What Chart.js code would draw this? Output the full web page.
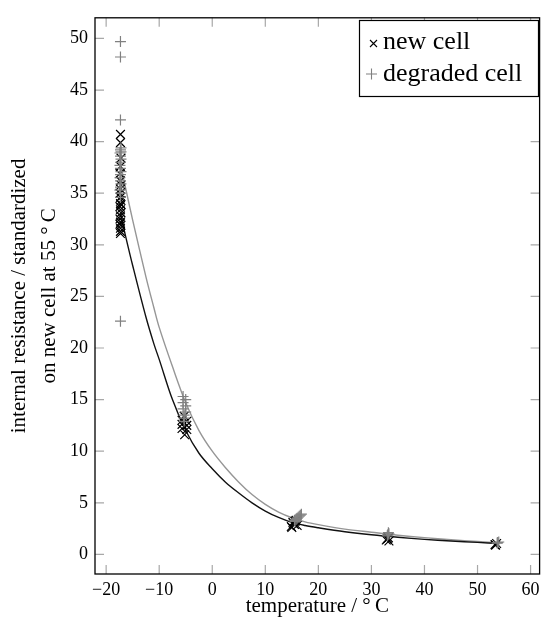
<!DOCTYPE html>
<html>
<head>
<meta charset="utf-8">
<script src="https://cdn.jsdelivr.net/npm/chart.js@4.4.1/dist/chart.umd.min.js"></script>
<style>
    html, body { margin: 0; padding: 0; background: #fff; }
    #wrap { width: 547px; height: 626px; }
</style>
</head>
<body>
<div id="wrap"><canvas id="chart" width="547" height="626"></canvas></div>
<script>
// measurements, new cell
const newCellT = [
    -17.3, -17.3, -17.2, -17.3, -17.4, -17.3, -17.2, -17.3, -17.4, -17.3, -17.2, -17.3,
    -17.4, -17.3, -17.2, -17.3, -17.4, -17.3, -17.2, -17.3, -17.3, -17.3, -17.2, -17.4,
    -5.7, -4.8, -5.7, -4.8, -5.7, -4.8, -5.2, -5.3,
    14.9, 15.3, 15.6, 16.0, 15.2, 15.5, 15.8, 15.0,
    32.8, 33.2, 33.0, 33.3,
    53.3, 53.6, 53.4
];
const newCellR = [
    40.7, 39.9, 38.4, 37.6, 36.9, 36.2, 35.8, 35.4, 35.0, 34.6, 34.3, 34.0,
    33.7, 33.4, 33.1, 32.8, 32.5, 32.2, 31.9, 31.6, 31.3, 31.1, 33.9, 32.0,
    13.0, 12.9, 12.6, 12.5, 12.2, 12.1, 11.6, 13.4,
    2.7, 3.0, 3.2, 2.8, 3.1, 2.9, 3.3, 2.6,
    1.4, 1.6, 1.5, 1.3,
    0.95, 1.05, 0.9
];

// measurements, degraded cell
const degradedT = [
    -17.3, -17.3, -17.3, -17.2, -17.3, -17.4, -17.3, -17.2, -17.3, -17.4, -17.3,
    -17.2, -17.3, -17.4, -17.3, -17.2, -17.3, -17.4, -17.3, -17.3, -17.3, -17.2,
    -5.5, -5.0, -5.5, -5.0, -5.5, -5.0, -5.3, -5.3, -5.3,
    15.5, 16.0, 16.4, 16.8, 15.8, 16.2, 16.6, 15.6,
    33.0, 33.3, 33.1, 33.2,
    53.7, 54.0, 53.8
];
const degradedR = [
    49.7, 48.2, 42.1, 39.4, 39.2, 38.9, 38.6, 38.3, 38.0, 37.7, 37.4,
    37.1, 36.8, 36.5, 36.2, 35.9, 35.6, 35.3, 35.0, 34.6, 22.6, 39.0,
    15.3, 15.0, 14.7, 14.4, 14.1, 13.8, 13.5, 13.2, 12.9,
    3.3, 3.5, 3.7, 3.9, 3.4, 3.6, 3.8, 3.2,
    1.8, 2.0, 1.9, 2.1,
    1.1, 1.2, 1.15
];

// fitted curves
const fitT = [-17.3, -16.5, -15, -12.5, -11, -10, -7.5, -5, -2.5, 0, 2.5, 5, 7.5, 10, 12.5, 15, 17.5, 20, 25, 30, 35, 40, 45, 50, 54];
const newFitR = [33.0, 31.2, 28.0, 23.0, 20.4, 18.9, 15.0, 12.0, 9.8, 8.3, 7.0, 5.95, 5.0, 4.2, 3.58, 3.1, 2.8, 2.58, 2.2, 1.9, 1.66, 1.46, 1.3, 1.16, 1.06];
const degradedFitR = [37.9, 35.9, 32.4, 26.9, 23.9, 22.0, 18.2, 14.7, 12.0, 10.0, 8.4, 7.0, 5.8, 4.85, 4.1, 3.55, 3.15, 2.88, 2.45, 2.15, 1.86, 1.62, 1.42, 1.25, 1.12];

const xTicks = [-20, -10, 0, 10, 20, 30, 40, 50, 60];
const yTicks = [0, 5, 10, 15, 20, 25, 30, 35, 40, 45, 50];

const GRAY = 'rgb(128,128,128)';
const SERIF = "'Liberation Serif', 'Times New Roman', serif";
const TICK_LEN = 9;

const toPoints = (xs, ys) => xs.map((x, i) => ({ x, y: ys[i] }));

const frameTicks = {
    id: 'frameTicks',
    beforeDatasetsDraw(chart) {
        const { ctx, chartArea: a, scales: { x, y } } = chart;
        ctx.save();
        ctx.strokeStyle = '#a8a8a8';
        ctx.lineWidth = 1.2;
        ctx.beginPath();
        x.ticks.forEach(t => {
            const px = x.getPixelForValue(t.value);
            ctx.moveTo(px, a.bottom); ctx.lineTo(px, a.bottom - TICK_LEN);
            ctx.moveTo(px, a.top); ctx.lineTo(px, a.top + TICK_LEN);
        });
        y.ticks.forEach(t => {
            const py = y.getPixelForValue(t.value);
            ctx.moveTo(a.left, py); ctx.lineTo(a.left + TICK_LEN, py);
            ctx.moveTo(a.right, py); ctx.lineTo(a.right - TICK_LEN, py);
        });
        ctx.stroke();
        ctx.restore();
    },
    afterDatasetsDraw(chart) {
        const { ctx, chartArea: a } = chart;
        ctx.save();
        ctx.strokeStyle = '#000';
        ctx.lineWidth = 1.3;
        ctx.strokeRect(a.left, a.top, a.right - a.left, a.bottom - a.top);
        ctx.restore();
    }
};

// legend box in the upper right corner
const boxLegend = {
    id: 'boxLegend',
    afterDraw(chart) {
        const { ctx } = chart;
        const ds = chart.data.datasets;
        const bx = 359.5, by = 20.5, bw = 179, bh = 76;
        ctx.save();
        ctx.fillStyle = '#fff';
        ctx.fillRect(bx, by, bw, bh);
        ctx.strokeStyle = '#000';
        ctx.lineWidth = 1.2;
        ctx.strokeRect(bx, by, bw, bh);

        // × marker
        ctx.strokeStyle = '#000';
        ctx.lineWidth = 1.1;
        ctx.beginPath();
        ctx.moveTo(370, 40); ctx.lineTo(377, 47);
        ctx.moveTo(377, 40); ctx.lineTo(370, 47);
        ctx.stroke();
        // + marker
        ctx.strokeStyle = GRAY;
        ctx.beginPath();
        ctx.moveTo(366, 74); ctx.lineTo(377, 74);
        ctx.moveTo(371.5, 68.5); ctx.lineTo(371.5, 79.5);
        ctx.stroke();

        ctx.fillStyle = '#000';
        ctx.font = '26px ' + SERIF;
        ctx.textBaseline = 'alphabetic';
        ctx.textAlign = 'left';
        ctx.fillText(ds[0].label, 383, 49);
        ctx.fillText(ds[1].label, 383, 81);
        ctx.restore();
    }
};

const tickLabel = v => (v < 0 ? '\u2212' + Math.abs(v) : String(v));

new Chart(document.getElementById('chart'), {
    type: 'scatter',
    data: {
        datasets: [
            {
                label: 'new cell',
                data: toPoints(newCellT, newCellR),
                pointStyle: 'crossRot',
                pointRadius: 6.2,
                borderColor: '#000',
                backgroundColor: '#000',
                pointBorderWidth: 1.2,
                order: 2
            },
            {
                label: 'degraded cell',
                data: toPoints(degradedT, degradedR),
                pointStyle: 'cross',
                pointRadius: 5.5,
                borderColor: GRAY,
                backgroundColor: GRAY,
                pointBorderWidth: 1.2,
                order: 1
            },
            {
                label: 'new cell fit',
                type: 'line',
                data: toPoints(fitT, newFitR),
                showLine: true,
                pointRadius: 0,
                borderColor: '#111',
                borderWidth: 1.4,
                tension: 0.35,
                fill: false,
                order: 3
            },
            {
                label: 'degraded cell fit',
                type: 'line',
                data: toPoints(fitT, degradedFitR),
                showLine: true,
                pointRadius: 0,
                borderColor: 'rgb(150,150,150)',
                borderWidth: 1.4,
                tension: 0.35,
                fill: false,
                order: 4
            }
        ]
    },
    options: {
        responsive: false,
        animation: false,
        devicePixelRatio: 1,
        layout: { padding: { top: 9, right: 1, left: 0, bottom: 0 } },
        plugins: {
            legend: { display: false },
            tooltip: { enabled: false }
        },
        scales: {
            x: {
                type: 'linear',
                min: -22.1,
                max: 61.7,
                afterBuildTicks: s => { s.ticks = xTicks.map(v => ({ value: v })); },
                afterFit: s => { s.height = 52; },
                grid: { display: false, drawTicks: false },
                border: { display: false },
                ticks: {
                    callback: tickLabel,
                    color: '#000',
                    padding: 5,
                    maxRotation: 0,
                    font: { family: SERIF, size: 18 }
                },
                title: {
                    display: true,
                    text: 'temperature / \u00b0\u2009C',
                    color: '#000',
                    font: { family: SERIF, size: 21, lineHeight: 1.15 },
                    padding: { top: 0, bottom: 7 }
                }
            },
            y: {
                type: 'linear',
                min: -1.9,
                max: 52.0,
                afterBuildTicks: s => { s.ticks = yTicks.map(v => ({ value: v })); },
                afterFit: s => { s.width = 95; },
                grid: { display: false, drawTicks: false },
                border: { display: false },
                ticks: {
                    callback: tickLabel,
                    color: '#000',
                    padding: 7,
                    font: { family: SERIF, size: 18 }
                },
                title: {
                    display: true,
                    text: ['internal resistance / standardized', 'on new cell at 55 \u00b0\u2009C'],
                    color: '#000',
                    font: { family: SERIF, size: 21, lineHeight: 1.43 },
                    padding: { top: 4, bottom: 0 }
                }
            }
        }
    },
    plugins: [frameTicks, boxLegend]
});
</script>
</body>
</html>
